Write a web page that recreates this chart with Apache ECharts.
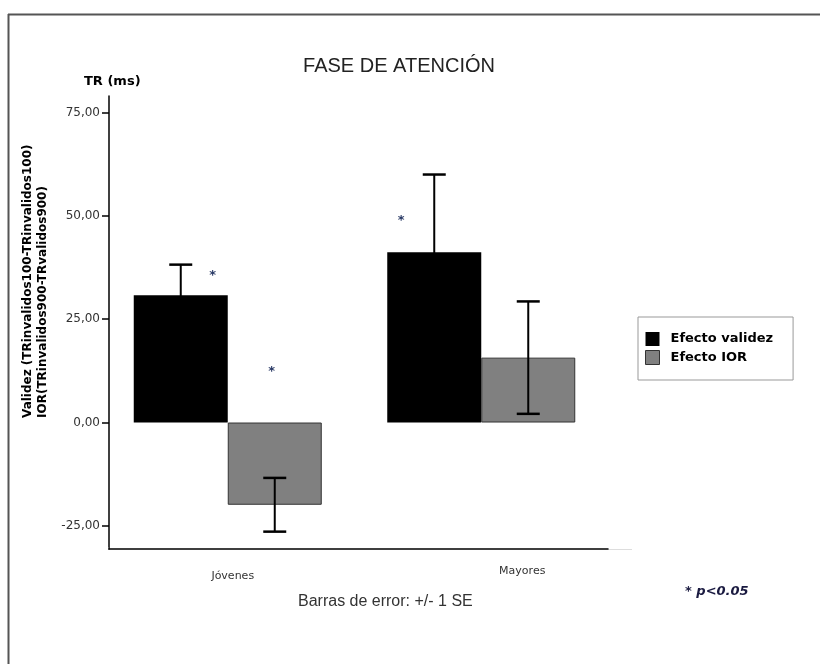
<!DOCTYPE html>
<html>
<head>
<meta charset="utf-8">
<script src="https://cdn.jsdelivr.net/npm/echarts@6/dist/echarts.min.js"></script>
<style>html,body{margin:0;padding:0;background:#fff}#c{width:820px;height:664px}</style>
</head>
<body>
<div id="c"></div>
<script>
const categories = ['Jóvenes', 'Mayores'];
const seriesNames = ['Efecto validez', 'Efecto IOR'];
const validez = [30.8, 41.2];
const validezSE = [7.4, 18.8];
const ior = [-19.9, 15.7];
const iorSE = [6.5, 13.6];
const yTicks = [-25, 0, 25, 50, 75];
const starValidez = [35.6, 48.9];
const starIor = [12.3];

const BAR_W = 94;
const FONT = 'DejaVu Sans';

const chart = echarts.init(document.getElementById('c'));

function errSeries(name, means, ses, off) {
  return {
    type: 'custom',
    name: name + ' SE',
    z: 10,
    silent: true,
    data: means.map((m, i) => [i, m - ses[i], m + ses[i]]),
    renderItem: function (params, api) {
      const lo = api.coord([api.value(0), api.value(1)]);
      const hi = api.coord([api.value(0), api.value(2)]);
      const x = lo[0] + off;
      const cap = 11.5;
      return {
        type: 'group',
        children: [
          { type: 'line', shape: { x1: x, y1: lo[1], x2: x, y2: hi[1] }, style: { stroke: '#000', lineWidth: 2 } },
          { type: 'line', shape: { x1: x - cap, y1: hi[1], x2: x + cap, y2: hi[1] }, style: { stroke: '#000', lineWidth: 2.5 } },
          { type: 'line', shape: { x1: x - cap, y1: lo[1], x2: x + cap, y2: lo[1] }, style: { stroke: '#000', lineWidth: 2.5 } }
        ]
      };
    }
  };
}

function starSeries(points, off) {
  return {
    type: 'custom',
    silent: true,
    z: 11,
    data: points,
    renderItem: function (params, api) {
      const p = api.coord([api.value(0), api.value(1)]);
      return {
        type: 'text',
        x: p[0] + off, y: p[1],
        style: {
          text: '*', fill: '#2a3a66', font: 'bold 13px "DejaVu Sans"',
          align: 'center', verticalAlign: 'middle'
        }
      };
    }
  };
}

const option = {
  animation: false,
  backgroundColor: '#fff',
  title: {
    text: 'FASE DE ATENCIÓN',
    left: 394, top: 51, textAlign: 'center',
    textStyle: { fontFamily: 'Liberation Sans', fontSize: 20, fontWeight: 'normal', color: '#222' }
  },
  legend: {
    orient: 'vertical',
    left: 638, top: 317,
    padding: [15, 20, 15, 7],
    itemGap: 4,
    itemWidth: 14, itemHeight: 14,
    borderColor: '#999', borderWidth: 1,
    icon: 'rect',
    data: [
      { name: seriesNames[0], itemStyle: { color: '#000', borderColor: '#000', borderWidth: 0 } },
      { name: seriesNames[1], itemStyle: { color: '#808080', borderColor: '#333', borderWidth: 1 } }
    ],
    textStyle: { fontFamily: FONT, fontSize: 13, fontWeight: 'bold', color: '#000', padding: [0, 0, 0, 6] }
  },
  grid: { left: 101, width: 507, top: 96, bottom: 115, containLabel: false },
  xAxis: {
    type: 'category',
    data: [
      { value: categories[0], textStyle: { padding: [5, 0, 0, 10] } },
      { value: categories[1], textStyle: { padding: [0, 0, 0, 82] } }
    ],
    axisLine: { onZero: false, lineStyle: { color: '#000', width: 1.5 } },
    axisTick: { show: false },
    axisLabel: { margin: 17, fontFamily: FONT, fontSize: 11, color: '#333' },
    splitLine: { show: false }
  },
  yAxis: {
    type: 'value',
    min: -30.6, max: 79,
    offset: -8,
    axisLine: { show: true, lineStyle: { color: '#000', width: 1.5 } },
    axisTick: { show: true, length: 7, customValues: yTicks, lineStyle: { color: '#000', width: 1.5 } },
    axisLabel: {
      customValues: yTicks, margin: 9, fontFamily: FONT, fontSize: 12, color: '#333',
      formatter: v => v.toFixed(2).replace('.', ',')
    },
    splitLine: { show: false }
  },
  series: [
    {
      name: seriesNames[0], type: 'bar', data: validez, barWidth: BAR_W, barGap: '0%',
      itemStyle: { color: '#000', borderColor: '#000', borderWidth: 0 }, z: 2
    },
    {
      name: seriesNames[1], type: 'bar', data: ior, barWidth: BAR_W, barGap: '0%',
      itemStyle: { color: '#808080', borderColor: '#333', borderWidth: 1 }, z: 2
    },
    errSeries(seriesNames[0], validez, validezSE, -BAR_W / 2),
    errSeries(seriesNames[1], ior, iorSE, BAR_W / 2),
    starSeries([[0, starValidez[0]]], -15),
    starSeries([[1, starValidez[1]]], -80),
    starSeries([[0, starIor[0]]], 44)
  ],
  graphic: [
    { type: 'line', shape: { x1: 8, y1: 14.5, x2: 820, y2: 14.5 }, style: { stroke: '#555', lineWidth: 2 } },
    { type: 'line', shape: { x1: 8.5, y1: 14, x2: 8.5, y2: 664 }, style: { stroke: '#555', lineWidth: 2 } },
    { type: 'line', shape: { x1: 608, y1: 549.5, x2: 632, y2: 549.5 }, style: { stroke: '#ddd', lineWidth: 1 } },
    { type: 'rect', z: 100, shape: { x: 99, y: 547, width: 9.2, height: 5 }, style: { fill: '#fff' } },
    { type: 'text', x: 84, y: 75, style: { text: 'TR (ms)', fontFamily: FONT, fontSize: 13, fontWeight: 'bold', fill: '#000' } },
    { type: 'text', x: 28, y: 418, rotation: Math.PI / 2, style: { text: 'Validez (TRinvalidos100-TRinvalidos100)', fontFamily: FONT, fontSize: 12, fontWeight: 'bold', fill: '#000', align: 'left', verticalAlign: 'middle' } },
    { type: 'text', x: 43, y: 418, rotation: Math.PI / 2, style: { text: 'IOR(TRinvalidos900-TRvalidos900)', fontFamily: FONT, fontSize: 12, fontWeight: 'bold', fill: '#000', align: 'left', verticalAlign: 'middle' } },
    { type: 'text', x: 298, y: 594, style: { text: 'Barras de error: +/- 1 SE', fontFamily: 'Liberation Sans', fontSize: 16, fill: '#333' } },
    { type: 'text', x: 685, y: 585, style: { text: '* p<0.05', fontFamily: FONT, fontSize: 13, fontWeight: 'bold', fontStyle: 'italic', fill: '#1a1a40' } }
  ]
};
chart.setOption(option);
</script>
</body>
</html>
